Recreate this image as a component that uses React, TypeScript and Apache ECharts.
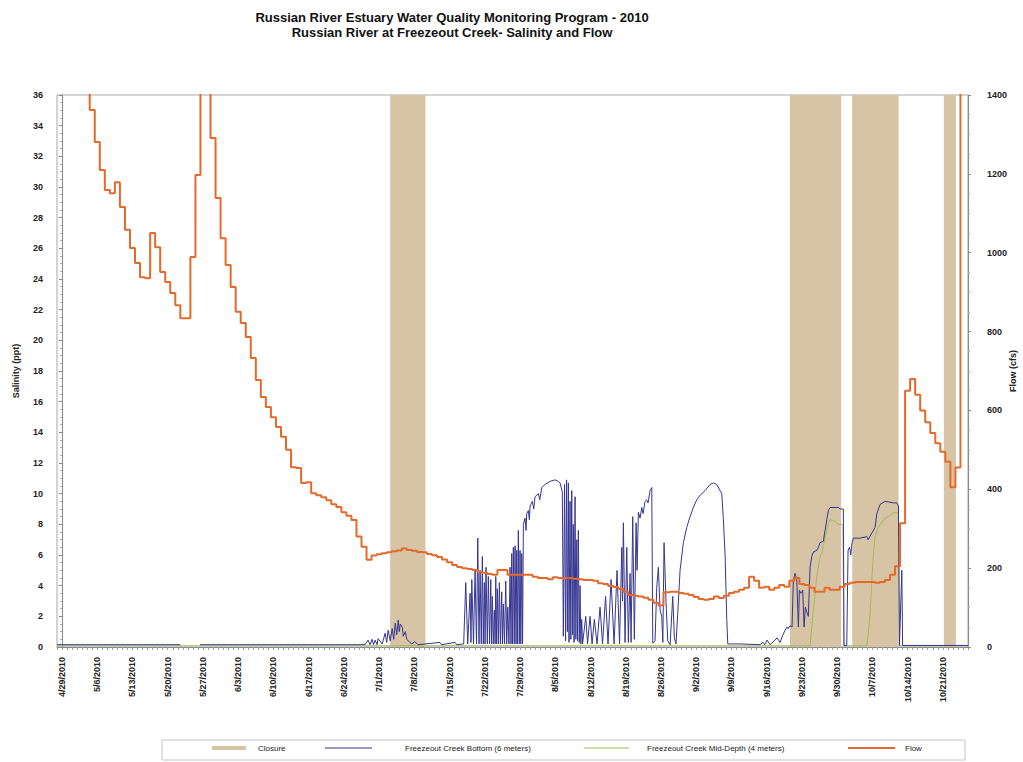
import React, { useEffect, useRef } from 'react';
import * as echarts from 'echarts';

// x values are days since 4/29/2010
const weekLabels = [
  '4/29/2010', '5/6/2010', '5/13/2010', '5/20/2010', '5/27/2010', '6/3/2010', '6/10/2010',
  '6/17/2010', '6/24/2010', '7/1/2010', '7/8/2010', '7/15/2010', '7/22/2010', '7/29/2010',
  '8/5/2010', '8/12/2010', '8/19/2010', '8/26/2010', '9/2/2010', '9/9/2010', '9/16/2010',
  '9/23/2010', '9/30/2010', '10/7/2010', '10/14/2010', '10/21/2010',
];

// daily flow (cfs), index = day since 4/29/2010
const flowCfs = [
  1500, 1500, 1500, 1500, 1500, 1450, 1362, 1281, 1210, 1159,
  1151, 1179, 1116, 1058, 1012, 974, 938, 935, 1050, 1014,
  951, 926, 898, 867, 834, 834, 989, 1197, 1550, 1500,
  1291, 1139, 1037, 969, 913, 850, 822, 786, 733, 677,
  634, 609, 583, 558, 533, 500, 456, 454, 416, 418,
  390, 385, 380, 372, 362, 355, 342, 333, 322, 280,
  254, 221, 232, 235, 238, 240, 243, 245, 250, 246,
  244, 241, 240, 236, 233, 228, 222, 215, 208, 203,
  200, 198, 195, 190, 188, 185, 183, 195, 195, 183,
  183, 183, 183, 183, 178, 175, 175, 172, 177, 175,
  175, 175, 173, 172, 170, 170, 168, 162, 160, 155,
  152, 148, 140, 132, 130, 128, 125, 120, 112, 105,
  139, 140, 140, 137, 135, 132, 127, 122, 120, 122,
  128, 124, 130, 137, 140, 145, 150, 178, 168, 150,
  153, 145, 150, 157, 153, 168, 175, 160, 157, 150,
  140, 140, 150, 145, 145, 153, 160, 163, 165, 165,
  165, 165, 163, 165, 170, 183, 205, 314, 650, 680,
  640, 600, 570, 543, 517, 495, 470, 405, 455, 1600,
  1700,
];

// Freezeout Creek Bottom (6 m) salinity, [day, ppt]
const bottomSalinity = [
  [-1, 0.15], [23.5, 0.15], [25.5, null], [27.4, 0.15], [60.2, 0.15],
  [60.8, 0.45], [61.2, 0.15], [61.6, 0.5], [61.9, 0.15], [62.2, 0.45], [62.6, 0.15], [62.8, 0.55],
  [63.6, 0.2], [64.2, 0.9], [64.5, 0.3], [64.8, 1.1], [65.2, 0.4], [65.6, 1.2], [65.9, 0.5],
  [66.2, 1.55], [66.5, 0.8], [66.8, 1.75], [67.0, 1.0], [67.2, 1.5], [67.6, 1.3], [67.8, 0.7],
  [68.2, 1.0], [68.5, 0.5], [69.1, 0.3], [69.5, 0.2], [70.1, 0.35], [70.7, 0.15], [75.1, 0.3],
  [75.4, 0.15], [78.1, 0.3], [78.4, 0.15], [79.8, 0.2],
  [80.21, 4.2], [80.6, 0.2], [81.07, 3.5], [81.25, 0.3], [81.41, 4.4], [81.75, 0.2], [82.06, 5.0],
  [82.35, 0.2], [82.6, 7.1], [82.85, 0.2], [83.06, 5.0], [83.3, 0.2], [83.51, 5.9], [83.7, 0.2],
  [83.91, 4.2], [84.05, 0.2], [84.24, 5.2], [84.5, 0.2], [84.7, 4.6], [84.95, 0.2], [85.18, 4.4],
  [85.35, 0.2], [85.5, 3.3], [85.7, 0.2], [85.9, 2.4], [86.05, 0.2], [86.17, 4.6], [86.35, 0.2],
  [86.49, 3.8], [86.7, 0.2], [86.89, 4.2], [87.1, 0.2], [87.36, 3.6], [87.5, 0.2], [87.68, 2.8],
  [87.9, 0.2], [88.16, 4.3], [88.35, 0.2], [88.56, 2.6], [88.8, 0.2], [89.01, 5.2], [89.2, 0.2],
  [89.35, 6.1], [89.5, 0.2], [89.67, 6.5], [89.85, 0.2], [90.01, 6.6], [90.2, 0.2], [90.35, 6.3],
  [90.5, 0.2], [90.66, 7.6], [90.85, 0.2], [91.0, 6.3], [91.15, 0.2], [91.34, 6.1], [91.5, 0.2],
  [91.66, 8.0], [91.99, 8.4], [92.19, 7.6], [92.33, 8.7], [92.65, 8.9], [92.85, 8.3], [92.99, 9.2],
  [93.44, 9.5], [93.72, 9.0], [93.98, 9.8], [94.64, 10.0], [94.91, 9.6], [95.31, 10.4], [95.97, 10.6],
  [96.96, 10.8], [97.95, 10.9], [98.61, 10.8], [98.95, 10.7], [99.4, 10.1], [99.6, 0.7], [99.84, 10.6],
  [100.04, 0.4], [100.24, 10.9], [100.4, 1.0], [100.6, 10.7], [100.73, 0.3], [100.93, 9.5],
  [101.09, 0.5], [101.27, 10.2], [101.43, 0.8], [101.59, 8.0], [101.73, 0.3], [101.93, 9.8],
  [102.09, 0.5], [102.27, 7.0], [102.42, 0.4], [102.58, 7.6], [102.76, 0.3], [102.92, 4.0],
  [103.08, 0.2], [103.25, 1.8], [103.42, 0.2],
  [104.06, 2.0], [104.41, 0.2], [104.91, 2.0], [105.31, 0.2], [105.76, 1.8], [106.3, 0.2],
  [106.89, 2.6], [107.39, 0.2], [107.99, 3.3], [108.48, 0.2], [109.08, 4.4], [109.68, 0.2],
  [110.27, 5.0], [110.77, 0.2], [111.21, 6.5], [111.35, 3.0], [111.53, 8.1], [111.86, 0.3],
  [112.2, 6.5], [112.52, 0.3], [112.86, 4.8], [113.06, 0.3], [113.39, 8.5], [113.71, 0.5],
  [114.05, 8.1], [114.25, 5.0], [114.51, 8.8], [114.84, 8.4], [115.18, 9.1], [115.44, 8.7],
  [115.84, 9.5], [116.17, 9.6], [116.43, 9.4], [116.83, 10.2], [117.17, 10.4], [117.37, 0.25],
  [117.82, 0.4], [118.16, 3.9], [118.48, 5.2], [118.82, 2.4], [119.15, 2.0], [119.37, 0.3],
  [119.61, 6.8], [120.01, 2.9], [120.35, 0.4], [120.81, 0.15], [121.34, 3.3], [121.66, 0.6],
  [121.99, 0.2], [122.45, 2.9], [122.79, 5.0], [123.45, 6.8], [124.12, 7.8], [124.78, 8.5],
  [125.43, 9.1], [126.11, 9.6], [126.76, 9.9], [127.76, 10.2], [128.75, 10.6], [129.41, 10.7],
  [130.08, 10.6], [130.74, 10.2], [131.08, 10.0], [131.4, 8.3], [131.74, 6.0], [132.07, 1.8],
  [132.27, 0.2],
  [134.71, 0.2], [138.68, 0.15], [139.28, 0.3], [139.6, 0.15], [140.08, 0.45], [140.67, 0.15],
  [141.66, 0.45], [142.06, 0.6], [142.66, 0.3], [143.06, 0.65], [143.65, 1.1], [144.05, 1.3],
  [144.25, 1.2], [144.65, 1.4],
  [145.04, 1.3], [145.3, 4.4], [145.64, 4.8], [145.98, 4.4], [146.3, 1.3], [146.5, 3.7],
  [146.78, 3.5], [147.17, 3.7], [147.43, 1.3], [147.69, 2.6], [147.96, 2.3], [148.28, 2.0],
  [148.62, 5.2], [148.96, 5.9], [149.28, 6.2], [149.96, 6.3], [150.27, 6.5], [150.61, 6.8],
  [151.27, 6.9], [151.6, 7.6], [151.94, 8.3], [152.26, 8.9], [152.59, 9.1], [154.24, 9.1],
  [154.58, 9.0], [155.23, 9.0], [155.37, 0.1],
  [155.91, 0.1], [156.17, 6.3], [156.47, 6.5], [156.7, 6.0], [156.96, 6.8], [157.23, 7.1],
  [158.56, 7.1], [159.89, 7.2], [160.15, 7.0], [161.54, 7.8], [161.88, 8.7], [162.54, 9.3],
  [163.53, 9.5], [165.18, 9.4], [165.86, 9.4], [166.18, 9.2], [166.38, 0.1], [166.85, 5.0],
  [167.01, 0.1], [180, 0.1],
];

// Freezeout Creek Mid-Depth (4 m) salinity, [day, ppt]
const midDepthSalinity = [
  [-1, 0.08], [148.62, 0.08], [149.28, 2.4], [149.96, 4.6], [150.61, 5.9], [150.94, 6.1],
  [151.6, 7.1], [152.26, 8.1], [152.59, 8.3], [153.59, 8.2], [154.24, 8.0], [154.91, 8.0],
  [155.17, 7.9], [155.31, 0.08], [159.9, 0.08], [160.22, 1.0], [160.56, 2.2], [160.9, 4.4],
  [161.22, 6.1], [161.54, 7.2], [162.19, 7.8], [163.19, 8.3], [164.52, 8.6], [165.51, 8.8],
  [166.18, 8.7], [166.38, 0.08], [180, 0.08],
];

// mouth closure periods, [start day, end day]
const closureStart = [65.2, 144.6, 157.0, 175.2];
const closureEnd = [72.2, 154.8, 166.2, 177.6];

const FONT = '"Liberation Sans", Arial, sans-serif';
const CLOSURE = '#d6c4a5';
const BLUE = '#363692';
const GREEN = '#a3b95a';
const ORANGE = '#e5692a';

export default function App() {
  const ref = useRef<HTMLDivElement>(null);

  useEffect(() => {
    if (!ref.current) return;
    const chart = echarts.init(ref.current, null, { renderer: 'svg' });

    const legendCommon = {
      orient: 'horizontal',
      top: 744,
      icon: 'rect',
      padding: 0,
      selectedMode: false,
      textStyle: { fontSize: 8, color: '#222', fontFamily: FONT },
    };

    const option = {
      animation: false,
      backgroundColor: '#ffffff',
      textStyle: { fontFamily: FONT },
      grid: {
        left: 57,
        right: 55,
        top: 95,
        bottom: 115,
        show: true,
        borderColor: '#a8a8a8',
        borderWidth: 1,
        backgroundColor: 'transparent',
        containLabel: false,
        outerBoundsMode: 'none',
      },
      graphic: [
        {
          type: 'text',
          x: 452,
          y: 17,
          style: {
            text: 'Russian River Estuary Water Quality Monitoring Program - 2010',
            font: `bold 13px ${FONT}`,
            fill: '#111',
            align: 'center',
            verticalAlign: 'middle',
          },
        },
        {
          type: 'text',
          x: 452,
          y: 32,
          style: {
            text: 'Russian River at Freezeout Creek- Salinity and Flow',
            font: `bold 13px ${FONT}`,
            fill: '#111',
            align: 'center',
            verticalAlign: 'middle',
          },
        },
        {
          type: 'rect',
          shape: { x: 162, y: 740, width: 803, height: 20 },
          style: { fill: 'none', stroke: '#c4c4c4', lineWidth: 1 },
          z: -1,
        },
      ],
      legend: [
        {
          ...legendCommon,
          left: 212,
          itemWidth: 34,
          itemHeight: 4,
          data: ['Closure'],
          textStyle: { ...legendCommon.textStyle, padding: [0, 0, 0, 7] },
        },
        {
          ...legendCommon,
          left: 325,
          itemWidth: 47,
          itemHeight: 1,
          data: ['Freezeout Creek Bottom (6 meters)'],
          textStyle: { ...legendCommon.textStyle, padding: [0, 0, 0, 28] },
        },
        {
          ...legendCommon,
          left: 584,
          itemWidth: 45,
          itemHeight: 1,
          data: ['Freezeout Creek Mid-Depth (4 meters)'],
          textStyle: { ...legendCommon.textStyle, padding: [0, 0, 0, 13] },
        },
        {
          ...legendCommon,
          left: 848,
          itemWidth: 47,
          itemHeight: 2,
          data: ['Flow'],
          textStyle: { ...legendCommon.textStyle, padding: [0, 0, 0, 5] },
        },
      ],
      xAxis: {
        type: 'value',
        min: -1,
        max: 180,
        interval: 1,
        axisLine: { show: true, lineStyle: { color: '#8a8a8a', width: 1 } },
        axisTick: { show: true, length: 3, lineStyle: { color: '#9a9a9a' } },
        splitLine: { show: false },
        axisLabel: {
          rotate: 90,
          margin: 10,
          fontSize: 9,
          fontWeight: 'bold',
          color: '#222',
          fontFamily: FONT,
          formatter: (v: number) => {
            const i = Math.round(v) / 7;
            return Number.isInteger(i) && i >= 0 && i < weekLabels.length ? weekLabels[i] : '';
          },
        },
      },
      yAxis: [
        {
          type: 'value',
          min: 0,
          max: 36,
          interval: 2,
          name: 'Salinity (ppt)',
          nameLocation: 'middle',
          nameGap: 37,
          nameMoveOverlap: false,
          nameTextStyle: { fontSize: 9, fontWeight: 'bold', color: '#222', fontFamily: FONT },
          axisLine: { show: true, lineStyle: { color: '#8a8a8a' } },
          axisTick: { show: true, length: 3, lineStyle: { color: '#8a8a8a' } },
          minorTick: { show: true, splitNumber: 4, length: 2, lineStyle: { color: '#aaa' } },
          splitLine: { show: false },
          axisLabel: { fontSize: 9, fontWeight: 'bold', color: '#222', margin: 14, fontFamily: FONT },
        },
        {
          type: 'value',
          min: 0,
          max: 1400,
          interval: 200,
          position: 'right',
          name: 'Flow (cfs)',
          nameLocation: 'middle',
          nameGap: 40,
          nameMoveOverlap: false,
          nameTextStyle: { fontSize: 9, fontWeight: 'bold', color: '#222', fontFamily: FONT },
          axisLine: { show: true, lineStyle: { color: '#8a8a8a' } },
          axisTick: { show: true, length: 3, lineStyle: { color: '#8a8a8a' } },
          minorTick: { show: true, splitNumber: 4, length: 2, lineStyle: { color: '#aaa' } },
          splitLine: { show: false },
          axisLabel: {
            fontSize: 9,
            fontWeight: 'bold',
            color: '#222',
            margin: 19,
            fontFamily: FONT,
            formatter: (v: number) => String(v),
          },
        },
      ],
      series: [
        {
          name: 'Closure',
          type: 'line',
          data: [],
          z: 1,
          itemStyle: { color: CLOSURE },
          lineStyle: { color: CLOSURE, width: 4 },
          markArea: {
            silent: true,
            itemStyle: { color: CLOSURE, opacity: 1 },
            data: closureStart.map((s, i) => [{ xAxis: s }, { xAxis: closureEnd[i] }]),
          },
        },
        {
          name: 'Freezeout Creek Mid-Depth (4 meters)',
          type: 'line',
          data: midDepthSalinity,
          symbol: 'none',
          z: 3,
          itemStyle: { color: GREEN },
          lineStyle: { color: GREEN, width: 1 },
        },
        {
          name: 'Freezeout Creek Bottom (6 meters)',
          type: 'line',
          data: bottomSalinity,
          symbol: 'none',
          z: 4,
          itemStyle: { color: BLUE },
          lineStyle: { color: BLUE, width: 1 },
        },
        {
          name: 'Flow',
          type: 'line',
          yAxisIndex: 1,
          step: 'middle',
          data: flowCfs.map((v, i) => [i, v]),
          symbol: 'none',
          z: 5,
          itemStyle: { color: ORANGE },
          lineStyle: { color: ORANGE, width: 2 },
        },
      ],
    };

    chart.setOption(option as any);
    return () => chart.dispose();
  }, []);

  return (
    <div
      ref={ref}
      style={{ position: 'fixed', left: 0, top: 0, width: 1023, height: 762, background: '#fff' }}
    />
  );
}
